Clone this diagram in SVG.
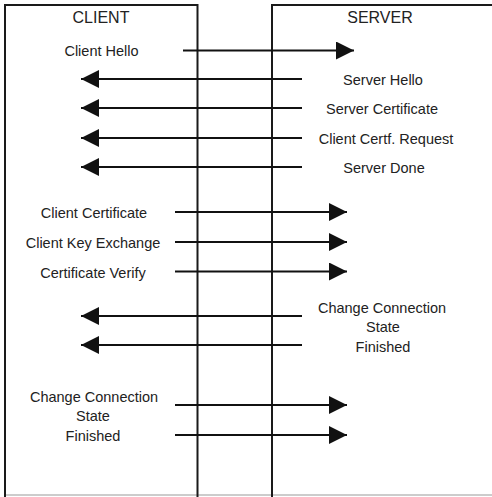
<svg xmlns="http://www.w3.org/2000/svg" width="492" height="497" viewBox="0 0 492 497">
<style>
.box{fill:none;stroke:#1a1a1a;stroke-width:2}
.t{font-family:"Liberation Sans",Arial,sans-serif;font-size:14.5px;fill:#222;text-anchor:middle}
.h{font-size:16px}
.c{stroke:#111;stroke-width:2;fill:none;marker-end:url(#ah)}
</style>
<defs>
<marker id="ah" markerUnits="userSpaceOnUse" markerWidth="20" markerHeight="18" refX="18" refY="9" orient="auto">
<path d="M0,0 L18,9 L0,18 Z" fill="#111"/>
</marker>
</defs>
<rect x="0" y="0" width="492" height="497" fill="#fff"/>
<line x1="5" y1="495" x2="492" y2="495" stroke="#bbb" stroke-width="1.5"/>
<g id="client">
<path class="box" d="M5,497 V5 H197.5 V497"/>
<text class="t h" x="101" y="23">CLIENT</text>
<text class="t" x="101.5" y="56">Client  Hello</text>
<text class="t" x="94" y="218">Client Certificate</text>
<text class="t" x="93" y="248">Client Key  Exchange</text>
<text class="t" x="93" y="278">Certificate Verify</text>
<text class="t" x="94" y="402">Change Connection</text>
<text class="t" x="93" y="421">State</text>
<text class="t" x="93" y="441">Finished</text>
</g>
<g id="server">
<path class="box" d="M272,497 V5 H500"/>
<text class="t h" x="380" y="23">SERVER</text>
<text class="t" x="383" y="85">Server Hello</text>
<text class="t" x="382" y="114">Server Certificate</text>
<text class="t" x="386" y="144">Client  Certf. Request</text>
<text class="t" x="384" y="173">Server Done</text>
<text class="t" x="382" y="313">Change Connection</text>
<text class="t" x="383" y="332">State</text>
<text class="t" x="383" y="352">Finished</text>
</g>
<g id="connectors">
<line class="c" x1="183" y1="50.5" x2="354" y2="50.5"/>
<line class="c" x1="302" y1="79" x2="81" y2="79"/>
<line class="c" x1="302" y1="108" x2="81" y2="108"/>
<line class="c" x1="302" y1="138" x2="81" y2="138"/>
<line class="c" x1="302" y1="167" x2="81" y2="167"/>
<line class="c" x1="175" y1="212" x2="347" y2="212"/>
<line class="c" x1="175" y1="242" x2="347" y2="242"/>
<line class="c" x1="175" y1="271.5" x2="347" y2="271.5"/>
<line class="c" x1="302" y1="316" x2="81" y2="316"/>
<line class="c" x1="302" y1="345" x2="81" y2="345"/>
<line class="c" x1="175" y1="405" x2="347" y2="405"/>
<line class="c" x1="175" y1="435" x2="347" y2="435"/>
</g>
</svg>
